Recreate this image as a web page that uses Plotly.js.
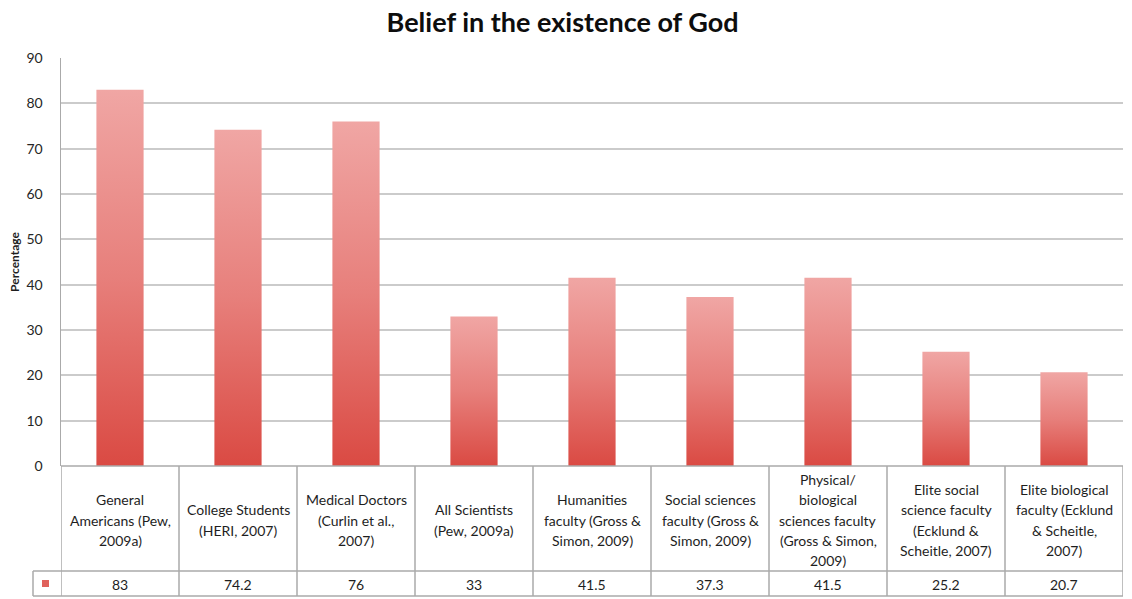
<!DOCTYPE html>
<html>
<head>
<meta charset="utf-8">
<script src="https://cdn.plot.ly/plotly-3.0.1.min.js"></script>
<style>
  html, body { margin: 0; padding: 0; background: #fff; }
  #chart { width: 1132px; height: 599px; }
</style>
</head>
<body>
<div id="chart"></div>
<script>
// Category labels, one entry per line of the table cell
const categoryLines = [
  ["General", "Americans (Pew,", "2009a)"],
  ["College Students", "(HERI, 2007)"],
  ["Medical Doctors", "(Curlin et al.,", "2007)"],
  ["All Scientists", "(Pew, 2009a)"],
  ["Humanities", "faculty (Gross &", "Simon, 2009)"],
  ["Social sciences", "faculty (Gross &", "Simon, 2009)"],
  ["Physical/", "biological", "sciences faculty", "(Gross & Simon,", "2009)"],
  ["Elite social", "science faculty", "(Ecklund &", "Scheitle, 2007)"],
  ["Elite biological", "faculty (Ecklund", "& Scheitle,", "2007)"]
];
const percentages = [83, 74.2, 76, 33, 41.5, 37.3, 41.5, 25.2, 20.7];
const yTicks = [0, 10, 20, 30, 40, 50, 60, 70, 80, 90];

const W = 1132, H = 599;
const M = { l: 61, r: 9, t: 58, b: 133 };
const plotH = H - M.t - M.b;
const plotW = W - M.l - M.r;
const FONT = "Lato, 'Open Sans', sans-serif";
const GRID = "#cbcbcb";
const TABLE = "#aaaaaa";

// convert a pixel position to paper coordinates
const py = y => (H - M.b - y) / plotH;
const px = x => (x - M.l) / plotW;

const halfBar = 0.2;
const traces = percentages.map((v, i) => ({
  type: "scatter",
  mode: "lines",
  x: [i - halfBar, i + halfBar, i + halfBar, i - halfBar, i - halfBar],
  y: [0, 0, v, v, 0],
  fill: "toself",
  fillgradient: {
    type: "vertical",
    colorscale: [[0, "#da4a43"], [0.5, "#e77f7b"], [1, "#f0a6a4"]]
  },
  line: { width: 0 },
  hoverinfo: "skip",
  showlegend: false
}));

const shapes = [];
const annotations = [];

// table: top, middle, bottom borders
const rowTop = py(H - M.b), rowMid = py(571), rowBot = py(596);
shapes.push({ type: "line", xref: "paper", yref: "paper", x0: 0, x1: 1, y0: rowTop, y1: rowTop, line: { color: TABLE, width: 1.5 } });
shapes.push({ type: "line", xref: "paper", yref: "paper", x0: px(33), x1: 1, y0: rowMid, y1: rowMid, line: { color: TABLE, width: 1.5 } });
shapes.push({ type: "line", xref: "paper", yref: "paper", x0: px(33), x1: 1, y0: rowBot, y1: rowBot, line: { color: TABLE, width: 1.5 } });
// legend-key cell left border
shapes.push({ type: "line", xref: "paper", yref: "paper", x0: px(33), x1: px(33), y0: rowMid, y1: rowBot, line: { color: TABLE, width: 1.5 } });
// column separators
for (let k = 0; k <= percentages.length; k++) {
  shapes.push({
    type: "line", xref: "x", yref: "paper",
    x0: k - 0.5, x1: k - 0.5, y0: rowTop, y1: rowBot,
    line: { color: TABLE, width: 1.5 }
  });
}
// legend key swatch
shapes.push({
  type: "rect", xref: "paper", yref: "paper",
  x0: px(42), x1: px(49), y0: py(580), y1: py(587),
  fillcolor: "#e0625c", line: { width: 0 }
});

// category text, line by line
const lineGap = 20.3, cellCenter = 520;
categoryLines.forEach((lines, i) => {
  const n = lines.length;
  lines.forEach((t, j) => {
    annotations.push({
      xref: "x", yref: "paper", x: i, y: py(cellCenter + (j - (n - 1) / 2) * lineGap),
      text: t, showarrow: false, xanchor: "center", yanchor: "middle",
      font: { family: FONT, size: 14, color: "#1e1e1e" }
    });
  });
});
// value row
percentages.forEach((v, i) => {
  annotations.push({
    xref: "x", yref: "paper", x: i, y: py(584),
    text: String(v), showarrow: false, xanchor: "center", yanchor: "middle",
    font: { family: FONT, size: 14, color: "#1e1e1e" }
  });
});

const layout = {
  width: W, height: H,
  margin: M,
  paper_bgcolor: "#fff", plot_bgcolor: "#fff",
  title: {
    text: "<b>Belief in the existence of God</b>",
    x: 0.497, xanchor: "center", y: 0.962, yanchor: "middle",
    font: { family: FONT, size: 27, color: "#0d0d0d" }
  },
  xaxis: {
    range: [-0.5, percentages.length - 0.5],
    showticklabels: false, showgrid: false, zeroline: false,
    showline: false, ticks: "", fixedrange: true
  },
  yaxis: {
    range: [0, 90],
    tickvals: yTicks,
    ticktext: yTicks.map(String),
    tickfont: { family: FONT, size: 14, color: "#262626" },
    ticks: "", ticklen: 0,
    ticklabelstandoff: 14,
    showgrid: true, gridcolor: GRID, gridwidth: 2,
    zeroline: false,
    showline: true, linecolor: TABLE, linewidth: 1.5,
    title: {
      text: "<b>Percentage</b>",
      font: { family: FONT, size: 12, color: "#1e1e1e" },
      standoff: 4
    },
    fixedrange: true
  },
  shapes: shapes,
  annotations: annotations
};

Plotly.newPlot("chart", traces, layout, { displayModeBar: false, staticPlot: true });
</script>
</body>
</html>
